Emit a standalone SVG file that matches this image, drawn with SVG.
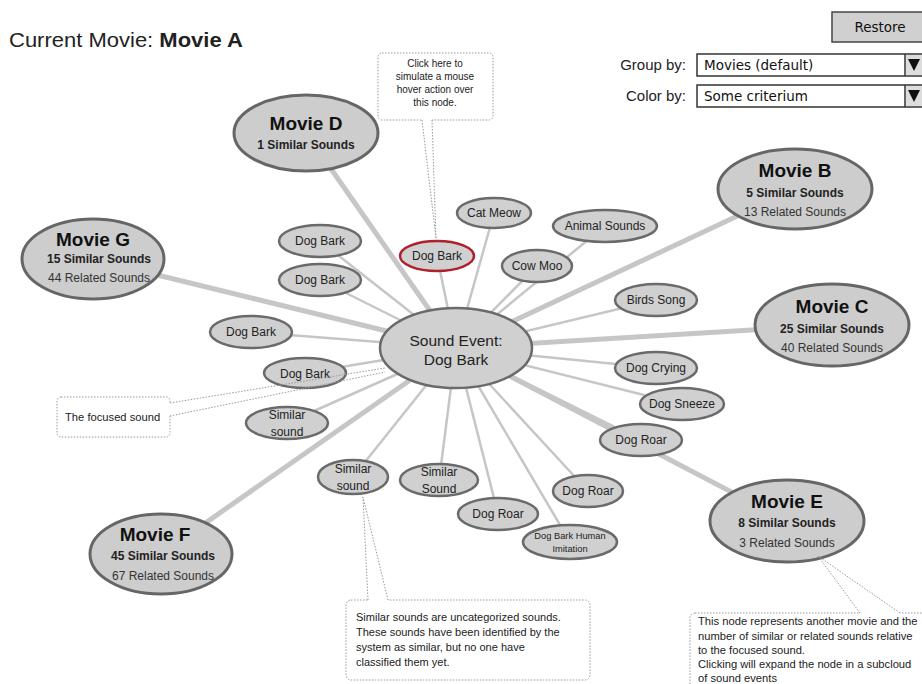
<svg xmlns="http://www.w3.org/2000/svg" width="922" height="684" viewBox="0 0 922 684">
<style>
text{font-family:"Liberation Sans",Arial,sans-serif;fill:#222}
.hand{font-family:"DejaVu Sans","Liberation Sans",sans-serif;font-size:13.5px;fill:#111}
.s{fill:#d0d0d0;stroke:#6a6a6a;stroke-width:2.5}
.m{fill:#cdcdcd;stroke:#666;stroke-width:3}
.red{fill:#d0d0d0;stroke:#b0202a;stroke-width:2.5}
.st{font-size:12px;text-anchor:middle}
.mt{font-size:19px;font-weight:bold;text-anchor:middle;fill:#111}
.ms{font-size:12px;font-weight:bold;text-anchor:middle}
.mr{font-size:12px;text-anchor:middle;fill:#333}
.thin{stroke:#c6c6c6;stroke-width:2.5;fill:none}
.thick{stroke:#c6c6c6;stroke-width:5;fill:none}
.note{fill:#fff;stroke:#9a9a9a;stroke-width:1;stroke-dasharray:1.5 1.5}
.ptr{stroke:#9a9a9a;stroke-width:1;stroke-dasharray:1.5 1.5;fill:none}
.nt{font-size:11.2px;fill:#222}
.nt10{font-size:10px;fill:#222;text-anchor:middle}
.nt11{font-size:11px;fill:#222}
.tiny{font-size:9.3px;text-anchor:middle}
</style>

<text x="8.2" y="47" font-size="20" transform="scale(1.1,1)">Current Movie: <tspan font-weight="bold">Movie A</tspan></text>

<g id="controls">
<rect x="832" y="12" width="95" height="30" fill="#d0d0d0" stroke="#444" stroke-width="1.5"/>
<text x="880" y="32" class="hand" text-anchor="middle">Restore</text>
<text x="686" y="70" font-size="15" text-anchor="end">Group by:</text>
<rect x="697" y="54" width="230" height="22" fill="#fff" stroke="#333" stroke-width="1.5"/>
<line x1="905" y1="54" x2="905" y2="76" stroke="#333" stroke-width="1.5"/>
<rect x="906" y="55" width="16" height="20" fill="#ddd"/>
<polygon points="908,59 920,59 914,71" fill="#111"/>
<text x="704" y="70" class="hand">Movies (default)</text>
<text x="686" y="101" font-size="15" text-anchor="end">Color by:</text>
<rect x="697" y="85" width="230" height="22" fill="#fff" stroke="#333" stroke-width="1.5"/>
<line x1="905" y1="85" x2="905" y2="107" stroke="#333" stroke-width="1.5"/>
<rect x="906" y="86" width="16" height="20" fill="#ddd"/>
<polygon points="908,90 920,90 914,102" fill="#111"/>
<text x="704" y="101" class="hand">Some criterium</text>
</g>

<g id="connectors">
<line class="thick" x1="456" y1="348" x2="306" y2="133"/>
<line class="thick" x1="456" y1="348" x2="795" y2="189"/>
<line class="thick" x1="456" y1="348" x2="832" y2="325"/>
<line class="thick" x1="456" y1="348" x2="92" y2="259"/>
<line class="thick" x1="456" y1="348" x2="787" y2="521"/>
<line class="thick" x1="456" y1="348" x2="161" y2="554"/>
<line class="thin" x1="456" y1="348" x2="320" y2="241"/>
<line class="thin" x1="456" y1="348" x2="320" y2="280"/>
<line class="thin" x1="456" y1="348" x2="251" y2="332"/>
<line class="thin" x1="456" y1="348" x2="305" y2="373"/>
<line class="thin" x1="456" y1="348" x2="287" y2="423"/>
<line class="thin" x1="456" y1="348" x2="437" y2="256"/>
<line class="thin" x1="456" y1="348" x2="494" y2="213"/>
<line class="thin" x1="456" y1="348" x2="605" y2="226"/>
<line class="thin" x1="456" y1="348" x2="537" y2="266"/>
<line class="thin" x1="456" y1="348" x2="656" y2="300"/>
<line class="thin" x1="456" y1="348" x2="656" y2="368"/>
<line class="thin" x1="456" y1="348" x2="680" y2="404"/>
<line class="thin" x1="456" y1="348" x2="641" y2="440"/>
<line class="thin" x1="456" y1="348" x2="353" y2="477"/>
<line class="thin" x1="456" y1="348" x2="439" y2="481"/>
<line class="thin" x1="456" y1="348" x2="498" y2="514"/>
<line class="thin" x1="456" y1="348" x2="588" y2="491"/>
<line class="thin" x1="456" y1="348" x2="570" y2="542"/>
</g>

<g id="center">
<ellipse class="s" cx="456" cy="348" rx="76" ry="40"/>
<text x="456" y="346" font-size="15.5" text-anchor="middle">Sound Event:</text>
<text x="456" y="365" font-size="15.5" text-anchor="middle">Dog Bark</text>
</g>

<g id="movieD"><ellipse class="m" cx="306" cy="133" rx="72" ry="38"/>
<text class="mt" x="306" y="130">Movie D</text><text class="ms" x="306" y="149">1 Similar Sounds</text></g>
<g id="movieB"><ellipse class="m" cx="795" cy="189" rx="77" ry="40"/>
<text class="mt" x="795" y="177">Movie B</text><text class="ms" x="795" y="197">5 Similar Sounds</text><text class="mr" x="795" y="216">13 Related Sounds</text></g>
<g id="movieC"><ellipse class="m" cx="832" cy="325" rx="77" ry="41"/>
<text class="mt" x="832" y="313">Movie C</text><text class="ms" x="832" y="333">25 Similar Sounds</text><text class="mr" x="832" y="352">40 Related Sounds</text></g>
<g id="movieG"><ellipse class="m" cx="93" cy="259" rx="71" ry="40"/>
<text class="mt" x="93" y="246">Movie G</text><text class="ms" x="99" y="263">15 Similar Sounds</text><text class="mr" x="99" y="282">44 Related Sounds</text></g>
<g id="movieE"><ellipse class="m" cx="787" cy="521" rx="77" ry="41"/>
<text class="mt" x="787" y="508">Movie E</text><text class="ms" x="787" y="527">8 Similar Sounds</text><text class="mr" x="787" y="547">3 Related Sounds</text></g>
<g id="movieF"><ellipse class="m" cx="161" cy="554" rx="71" ry="40"/>
<text class="mt" x="155" y="541">Movie F</text><text class="ms" x="163" y="560">45 Similar Sounds</text><text class="mr" x="163" y="580">67 Related Sounds</text></g>

<g id="n1"><ellipse class="s" cx="320" cy="241" rx="41" ry="16"/><text class="st" x="320" y="245">Dog Bark</text></g>
<g id="n2"><ellipse class="s" cx="320" cy="280" rx="41" ry="16"/><text class="st" x="320" y="284">Dog Bark</text></g>
<g id="n3"><ellipse class="s" cx="251" cy="332" rx="41" ry="16"/><text class="st" x="251" y="336">Dog Bark</text></g>
<g id="n4"><ellipse class="s" cx="305" cy="373" rx="41" ry="15"/><text class="st" x="305" y="378">Dog Bark</text></g>
<g id="n5"><ellipse class="s" cx="287" cy="423" rx="41" ry="16"/><text class="st" x="287" y="419">Similar</text><text class="st" x="287" y="436">sound</text></g>
<g id="n6"><ellipse class="red" cx="437" cy="256" rx="37" ry="15"/><text class="st" x="437" y="260">Dog Bark</text></g>
<g id="n7"><ellipse class="s" cx="494" cy="213" rx="37" ry="15"/><text class="st" x="494" y="217">Cat Meow</text></g>
<g id="n8"><ellipse class="s" cx="605" cy="226" rx="52" ry="16"/><text class="st" x="605" y="230">Animal Sounds</text></g>
<g id="n9"><ellipse class="s" cx="537" cy="266" rx="35" ry="16"/><text class="st" x="537" y="270">Cow Moo</text></g>
<g id="n10"><ellipse class="s" cx="656" cy="300" rx="41" ry="16"/><text class="st" x="656" y="304">Birds Song</text></g>
<g id="n11"><ellipse class="s" cx="656" cy="368" rx="41" ry="16"/><text class="st" x="656" y="372">Dog Crying</text></g>
<g id="n12"><ellipse class="s" cx="682" cy="404" rx="42" ry="16"/><text class="st" x="682" y="408">Dog Sneeze</text></g>
<g id="n13"><ellipse class="s" cx="641" cy="440" rx="41" ry="16"/><text class="st" x="641" y="444">Dog Roar</text></g>
<g id="n14"><ellipse class="s" cx="353" cy="477" rx="35" ry="17"/><text class="st" x="353" y="473">Similar</text><text class="st" x="353" y="490">sound</text></g>
<g id="n15"><ellipse class="s" cx="439" cy="480" rx="39" ry="16"/><text class="st" x="439" y="476">Similar</text><text class="st" x="439" y="493">Sound</text></g>
<g id="n16"><ellipse class="s" cx="498" cy="514" rx="40" ry="16"/><text class="st" x="498" y="518">Dog Roar</text></g>
<g id="n17"><ellipse class="s" cx="588" cy="491" rx="35" ry="16"/><text class="st" x="588" y="495">Dog Roar</text></g>
<g id="n18"><ellipse class="s" cx="570" cy="542" rx="47" ry="17"/><text class="tiny" x="570" y="539">Dog Bark Human</text><text class="tiny" x="570" y="552">Imitation</text></g>

<g id="note-hover">
<rect class="note" x="378" y="53" width="115" height="67" rx="4"/>
<line x1="422" y1="120" x2="432" y2="120" stroke="#fff" stroke-width="2"/>
<line class="ptr" x1="422" y1="120" x2="436" y2="238"/>
<line class="ptr" x1="432" y1="120" x2="436" y2="238"/>
<text class="nt10" x="435" y="67">Click here to</text>
<text class="nt10" x="435" y="80">simulate a mouse</text>
<text class="nt10" x="435" y="93">hover action over</text>
<text class="nt10" x="435" y="106">this node.</text>
</g>

<g id="note-focused">
<rect class="note" x="57" y="397" width="113" height="40" rx="4"/>
<line x1="170" y1="403" x2="170" y2="416" stroke="#fff" stroke-width="2"/>
<line class="ptr" x1="170" y1="403" x2="385" y2="368"/>
<line class="ptr" x1="170" y1="416" x2="385" y2="372"/>
<text class="nt" x="65" y="421">The focused sound</text>
</g>

<g id="note-similar">
<rect class="note" x="346" y="600" width="244" height="80" rx="5"/>
<line x1="368" y1="600" x2="388" y2="600" stroke="#fff" stroke-width="2"/>
<line class="ptr" x1="368" y1="600" x2="363" y2="497"/>
<line class="ptr" x1="388" y1="600" x2="363" y2="497"/>
<text class="nt11" x="356" y="621">Similar sounds are uncategorized sounds.</text>
<text class="nt11" x="356" y="636">These sounds have been identified by the</text>
<text class="nt11" x="356" y="651">system as similar, but no one have</text>
<text class="nt11" x="356" y="666">classified them yet.</text>
</g>

<g id="note-movie">
<rect class="note" x="690" y="613" width="250" height="90" rx="5"/>
<line x1="860" y1="613" x2="900" y2="613" stroke="#fff" stroke-width="2"/>
<line class="ptr" x1="860" y1="613" x2="818" y2="556"/>
<line class="ptr" x1="900" y1="613" x2="818" y2="556"/>
<text class="nt" x="698" y="625">This node represents another movie and the</text>
<text class="nt" x="698" y="640">number of similar or related sounds relative</text>
<text class="nt" x="698" y="654">to the focused sound.</text>
<text class="nt" x="698" y="668">Clicking will expand the node in a subcloud</text>
<text class="nt" x="698" y="682">of sound events</text>
</g>
</svg>
